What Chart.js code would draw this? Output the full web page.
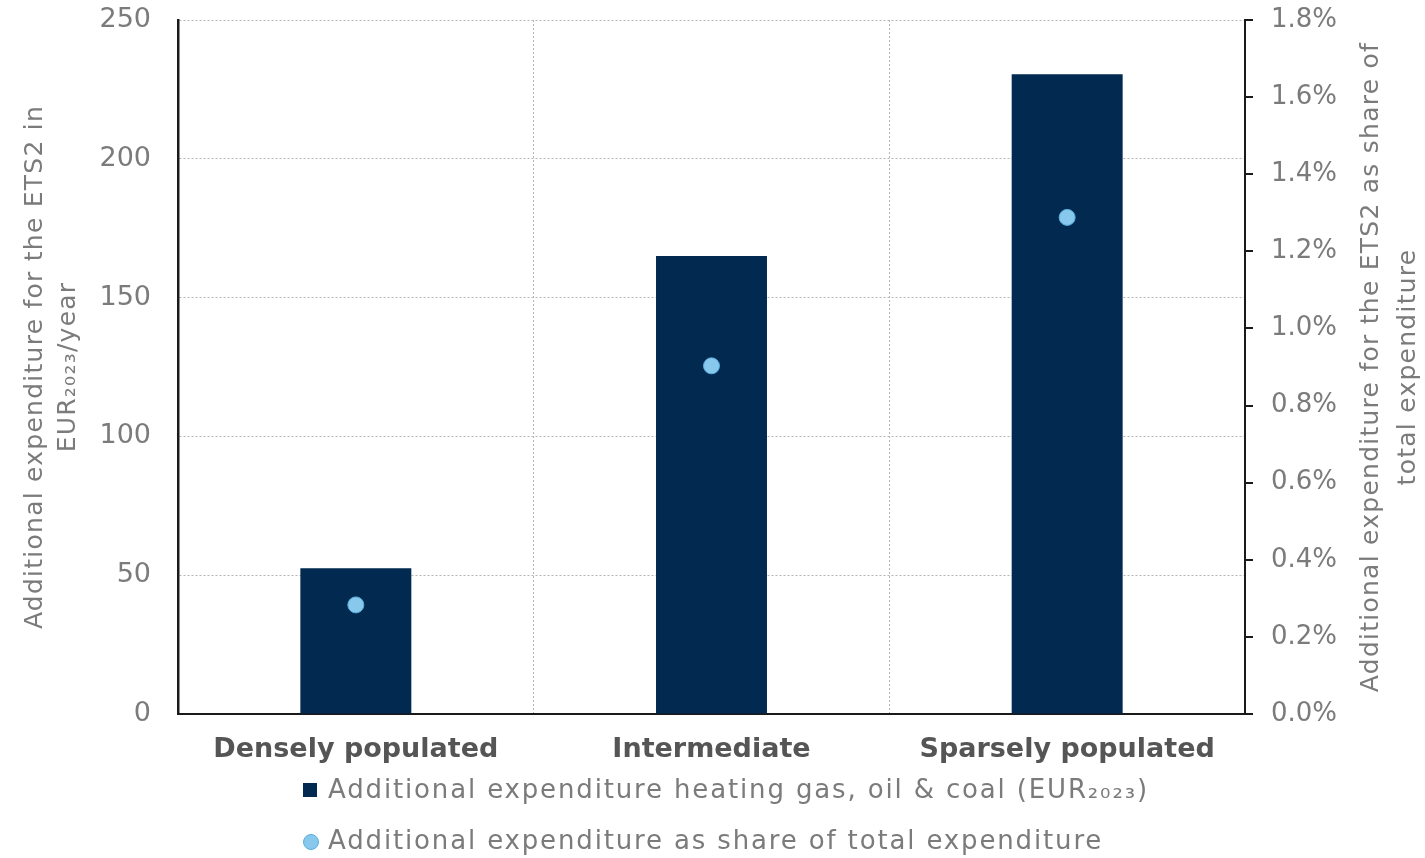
<!DOCTYPE html>
<html>
<head>
<meta charset="utf-8">
<script src="https://cdn.jsdelivr.net/npm/chart.js@4"></script>
<style>
  html, body { margin: 0; padding: 0; background: #fff; }
  #wrap { width: 1425px; height: 858px; }
</style>
</head>
<body>
<div id="wrap"><canvas id="chart" width="1425" height="858"></canvas></div>
<script>
// data
var categories = ['Densely populated', 'Intermediate', 'Sparsely populated'];
var heatingCost = [52.5, 165, 230.5];      // EUR2023 / year
var shareOfTotal = [0.283, 0.903, 1.288];  // % of total expenditure
var leftTicks = [0, 50, 100, 150, 200, 250];
var rightTicks = [0, 0.2, 0.4, 0.6, 0.8, 1.0, 1.2, 1.4, 1.6, 1.8];

var barLabel = 'Additional expenditure heating gas, oil & coal (EUR\u2082\u2080\u2082\u2083)';
var pointLabel = 'Additional expenditure as share of total expenditure';
var leftTitle = ['Additional expenditure for the ETS2 in', 'EUR\u2082\u2080\u2082\u2083/year'];
var rightTitle = ['Additional expenditure for the ETS2 as share of', 'total expenditure'];

var FONT = "'DejaVu Sans', sans-serif";
var GREY = '#7b7b7b';
var NAVY = '#02294f';
var LIGHT = '#88c8ec';

// titles rotated bottom-to-top on both sides, plus stacked legend
var extras = {
    id: 'extras',
    afterDraw: function(chart) {
        var ctx = chart.ctx;
        var area = chart.chartArea;
        var midY = (area.top + area.bottom) / 2;
        ctx.save();
        ctx.fillStyle = GREY;
        ctx.font = '25px ' + FONT;
        ctx.letterSpacing = '1.25px';
        ctx.textAlign = 'center';
        ctx.textBaseline = 'middle';
        function vtitle(lines, xs) {
            lines.forEach(function(txt, i) {
                ctx.save();
                ctx.translate(xs[i], midY);
                ctx.rotate(-Math.PI / 2);
                ctx.fillText(txt, 0, 0);
                ctx.restore();
            });
        }
        vtitle(leftTitle, [35, 68]);
        vtitle(rightTitle, [1371, 1408]);

        // legend
        ctx.textAlign = 'left';
        ctx.font = '26px ' + FONT;
        ctx.letterSpacing = '1.85px';
        var x0 = 303;
        ctx.fillStyle = NAVY;
        ctx.fillRect(x0, 783, 14, 14);
        ctx.fillStyle = GREY;
        ctx.fillText(chart.data.datasets[1].label, 328, 791);

        ctx.beginPath();
        ctx.arc(x0 + 8, 842, 7.5, 0, Math.PI * 2);
        ctx.fillStyle = LIGHT;
        ctx.fill();
        ctx.strokeStyle = '#5aaede';
        ctx.lineWidth = 1;
        ctx.stroke();
        ctx.fillStyle = GREY;
        ctx.fillText(chart.data.datasets[0].label, 328, 842);
        ctx.letterSpacing = '0px';
        ctx.restore();
    }
};

// fixed axis sizes, and no extra layout room for the end tick labels
function fixSize(w) {
    return function(scale) {
        scale.width = w;
        scale.paddingTop = 0;
        scale.paddingBottom = 0;
    };
}

var ctx = document.getElementById('chart').getContext('2d');
var myChart = new Chart(ctx, {
    type: 'bar',
    data: {
        labels: categories,
        datasets: [{
            type: 'line',
            label: pointLabel,
            data: shareOfTotal,
            yAxisID: 'y2',
            showLine: false,
            pointRadius: 8,
            pointBackgroundColor: LIGHT,
            pointBorderColor: '#5aaede',
            pointBorderWidth: 1
        }, {
            type: 'bar',
            label: barLabel,
            data: heatingCost,
            yAxisID: 'y',
            backgroundColor: NAVY,
            categoryPercentage: 1,
            barPercentage: 0.312
        }]
    },
    options: {
        responsive: false,
        animation: false,
        plugins: {
            legend: { display: false },
            tooltip: { enabled: false }
        },
        layout: {
            padding: { left: 0, right: 0, top: 20, bottom: 0 }
        },
        scales: {
            x: {
                offset: true,
                grid: { display: true, offset: true, color: '#b5b5b5', lineWidth: 1, drawTicks: false },
                border: { display: true, color: '#1a1a1a', width: 2, dash: [2, 2] },
                ticks: {
                    color: '#555',
                    padding: 20,
                    font: { family: FONT, size: 27, weight: 'bold' }
                },
                afterFit: function(scale) { scale.height = 144; }
            },
            y: {
                position: 'left',
                min: 0,
                max: 250,
                afterBuildTicks: function(scale) {
                    scale.ticks = leftTicks.map(function(v) { return { value: v }; });
                },
                grid: { color: '#b5b5b5', lineWidth: 1, drawTicks: false },
                border: { display: true, color: '#1a1a1a', width: 2.5, dash: [2, 2] },
                ticks: {
                    color: GREY,
                    padding: 27,
                    font: { family: FONT, size: 27 }
                },
                afterFit: fixSize(178)
            },
            y2: {
                position: 'right',
                min: 0,
                max: 1.8,
                afterBuildTicks: function(scale) {
                    scale.ticks = rightTicks.map(function(v) { return { value: v }; });
                },
                grid: { drawOnChartArea: false, drawTicks: true, tickLength: 8, color: '#1a1a1a', lineWidth: 2 },
                border: { display: true, color: '#1a1a1a', width: 2 },
                ticks: {
                    color: GREY,
                    padding: 18,
                    font: { family: FONT, size: 26 },
                    callback: function(v) { return v.toFixed(1) + '%'; }
                },
                afterFit: fixSize(180)
            }
        }
    },
    plugins: [extras]
});
</script>
</body>
</html>
